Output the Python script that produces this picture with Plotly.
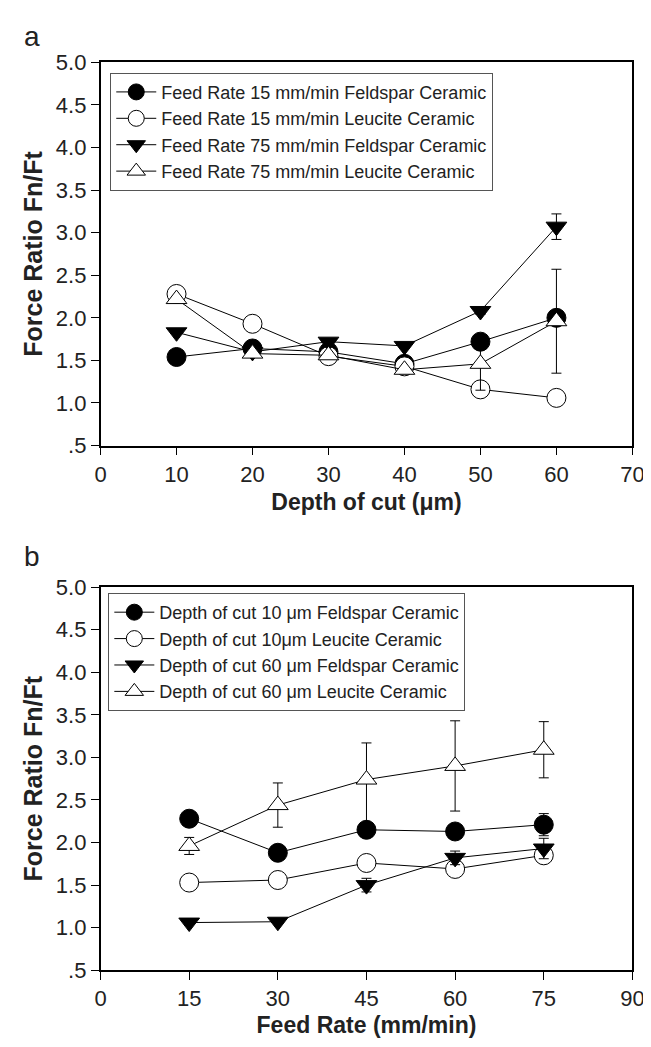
import plotly.graph_objects as go

# ---------- Panel a data ----------
depth = [10, 20, 30, 40, 50, 60]
fr15_feldspar = [1.54, 1.64, 1.60, 1.46, 1.72, 2.00]
fr15_leucite = [2.28, 1.93, 1.55, 1.43, 1.16, 1.06]
fr75_feldspar = [1.83, 1.60, 1.72, 1.67, 2.08, 3.07]
fr75_leucite = [2.22, 1.58, 1.56, 1.39, 1.46, 1.96]
fr75_feldspar_err = [0, 0, 0, 0, 0.04, 0.15]
fr15_leucite_err = [0, 0, 0, 0, 0.03, 0]
fr75_leucite_err = [0, 0, 0, 0, 0.31, 0.61]

# ---------- Panel b data ----------
feed = [15, 30, 45, 60, 75]
d10_feldspar = [2.28, 1.88, 2.15, 2.13, 2.21]
d10_leucite = [1.53, 1.56, 1.76, 1.69, 1.85]
d60_feldspar = [1.06, 1.07, 1.50, 1.82, 1.93]
d60_leucite = [1.96, 2.44, 2.74, 2.90, 3.09]
d10_feldspar_err = [0, 0, 0, 0.03, 0.13]
d60_feldspar_err = [0, 0, 0.08, 0.08, 0.12]
d60_leucite_err_plus = [0.10, 0.26, 0.43, 0.53, 0.33]
d60_leucite_err_minus = [0.10, 0.26, 0.55, 0.53, 0.33]

ytick_vals = [0.5, 1.0, 1.5, 2.0, 2.5, 3.0, 3.5, 4.0, 4.5, 5.0]
ytick_text = [".5", "1.0", "1.5", "2.0", "2.5", "3.0", "3.5", "4.0", "4.5", "5.0"]
xa_ticks = [0, 10, 20, 30, 40, 50, 60, 70]
xb_ticks = [0, 15, 30, 45, 60, 75, 90]

names_a = ["Feed Rate 15 mm/min Feldspar Ceramic",
           "Feed Rate 15 mm/min Leucite Ceramic",
           "Feed Rate 75 mm/min Feldspar Ceramic",
           "Feed Rate 75 mm/min Leucite Ceramic"]
names_b = ["Depth of cut 10 \u03bcm Feldspar Ceramic",
           "Depth of cut 10\u03bcm Leucite Ceramic",
           "Depth of cut 60 \u03bcm Feldspar Ceramic",
           "Depth of cut 60 \u03bcm Leucite Ceramic"]

FONT = "Liberation Sans, Arial, sans-serif"
W, H = 651, 1047

styles = [
    dict(symbol="circle", color="black"),
    dict(symbol="circle", color="white"),
    dict(symbol="triangle-down", color="black"),
    dict(symbol="triangle-up", color="white"),
]
sizes = [19, 19, 18, 18]


def err(plus, minus=None):
    if minus is None:
        return dict(type="data", array=plus, visible=True, color="black",
                    thickness=1, width=5)
    return dict(type="data", array=plus, arrayminus=minus, symmetric=False,
                visible=True, color="black", thickness=1, width=5)


fig = go.Figure()

series_a = [fr15_feldspar, fr15_leucite, fr75_feldspar, fr75_leucite]
errs_a = [None, err(fr15_leucite_err), err(fr75_feldspar_err), err(fr75_leucite_err)]
for i, (ys, name) in enumerate(zip(series_a, names_a)):
    kw = {}
    if errs_a[i] is not None:
        kw["error_y"] = errs_a[i]
    fig.add_trace(go.Scatter(
        x=depth, y=ys, name=name, mode="lines+markers",
        line=dict(color="black", width=1),
        marker=dict(symbol=styles[i]["symbol"], color=styles[i]["color"],
                    size=sizes[i], line=dict(color="black", width=1)),
        xaxis="x", yaxis="y", legend="legend",
        **kw))

series_b = [d10_feldspar, d10_leucite, d60_feldspar, d60_leucite]
errs_b = [err(d10_feldspar_err), None, err(d60_feldspar_err),
          err(d60_leucite_err_plus, d60_leucite_err_minus)]
for i, (ys, name) in enumerate(zip(series_b, names_b)):
    kw = {}
    if errs_b[i] is not None:
        kw["error_y"] = errs_b[i]
    fig.add_trace(go.Scatter(
        x=feed, y=ys, name=name, mode="lines+markers",
        line=dict(color="black", width=1),
        marker=dict(symbol=styles[i]["symbol"], color=styles[i]["color"],
                    size=sizes[i], line=dict(color="black", width=1)),
        xaxis="x2", yaxis="y2", legend="legend2",
        **kw))

axis_common = dict(showgrid=False, zeroline=False, showline=True,
                   linecolor="black", linewidth=1.5, mirror=True,
                   ticks="outside", ticklen=8, tickwidth=1.2, tickcolor="black",
                   tickfont=dict(family=FONT, size=22, color="#222"))

xtitle_font = dict(family=FONT, size=23, color="#222")
ytitle_font = dict(family=FONT, size=25, color="#222")
xdom = [89 / W, 636 / W]
fig.update_layout(
    width=W, height=H,
    margin=dict(l=0, r=0, t=0, b=0),
    paper_bgcolor="white", plot_bgcolor="white",
    font=dict(family=FONT, color="#222"),
    xaxis=dict(domain=xdom, range=[0, 70], tickvals=xa_ticks, anchor="y",
               title=dict(text="<b>Depth of cut (\u03bcm)</b>", standoff=8,
                          font=xtitle_font),
               **axis_common),
    yaxis=dict(domain=[1 - 436 / H, 1 - 43.3 / H], range=[0.5, 5.0],
               tickvals=ytick_vals, ticktext=ytick_text, anchor="x",
               title=dict(text="<b>Force Ratio Fn/Ft</b>", standoff=6,
                          font=ytitle_font),
               **axis_common),
    xaxis2=dict(domain=xdom, range=[0, 90], tickvals=xb_ticks, anchor="y2",
                title=dict(text="<b>Feed Rate (mm/min)</b>", standoff=6,
                           font=xtitle_font),
                **axis_common),
    yaxis2=dict(domain=[1 - 973.5 / H, 1 - 581 / H], range=[0.5, 5.0],
                tickvals=ytick_vals, ticktext=ytick_text, anchor="x2",
                title=dict(text="<b>Force Ratio Fn/Ft</b>", standoff=6,
                           font=ytitle_font),
                **axis_common),
    legend=dict(x=99 / W, y=1 - 54 / H, xanchor="left", yanchor="top",
                bordercolor="#555", borderwidth=1, bgcolor="white",
                font=dict(family=FONT, size=18, color="#222"),
                tracegroupgap=0, itemwidth=40),
    legend2=dict(x=97 / W, y=1 - 587 / H, xanchor="left", yanchor="top",
                 bordercolor="#555", borderwidth=1, bgcolor="white",
                 font=dict(family=FONT, size=18, color="#222"),
                 tracegroupgap=0, itemwidth=40),
    annotations=[
        dict(text="a", x=8 / W, y=1 - 17 / H, xref="paper", yref="paper",
             xanchor="left", yanchor="middle", showarrow=False,
             font=dict(family=FONT, size=28, color="#222")),
        dict(text="b", x=8 / W, y=1 - 550 / H, xref="paper", yref="paper",
             xanchor="left", yanchor="middle", showarrow=False,
             font=dict(family=FONT, size=28, color="#222")),
    ],
)

fig.write_html("out.html")
